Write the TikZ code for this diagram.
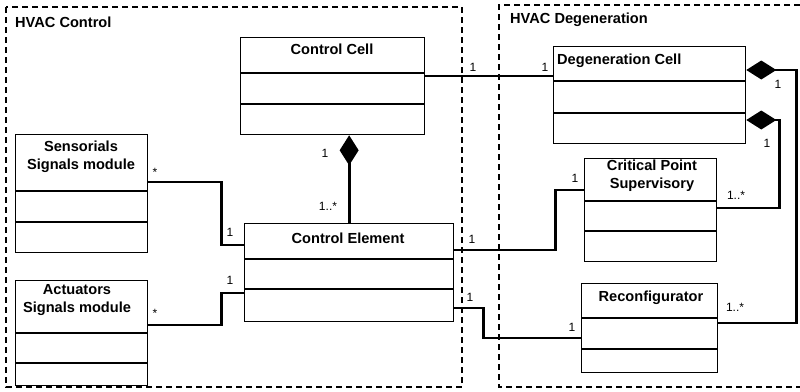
\documentclass[tikz,border=0pt]{standalone}
\usepackage{fontspec}
\setmainfont{Liberation Sans}
\usetikzlibrary{arrows.meta}

\begin{document}
\begin{tikzpicture}[x=1pt,y=-1pt]
        \tikzset{classbox/.style={draw, line width=1.3pt, rectangle, anchor=north west, inner sep=0pt}}
        \tikzset{classtitle/.style={font=\fontsize{14.6}{18}\selectfont\bfseries, align=center, inner sep=0pt}}
        \tikzset{pkgtitle/.style={font=\fontsize{14.6}{18}\selectfont\bfseries, anchor=west, inner sep=0pt}}
        \tikzset{mult/.style={font=\fontsize{12}{14}\selectfont, inner sep=0pt}}
        \tikzset{link/.style={line width=2.9pt}}
        \tikzset{comp/.style={link, {Diamond[length=30pt,width=19pt]}-}}
        \tikzset{pkg/.style={line width=1.3pt, dash pattern=on 6pt off 4pt}}

        \useasboundingbox (0,0) rectangle (800,391);

        % packages
        \draw[pkg] (6,7) rectangle (462,387);
        \draw[pkg] (800,5) -- (499,5) -- (499,387) -- (800,387);
        \node[pkgtitle] (ctrlpkg) at (15,22) {HVAC Control};
        \node[pkgtitle] (degpkg) at (510,20) {HVAC Degeneration};

        % classes
        \node[classbox, minimum width=184pt, minimum height=97pt] (ctrlcell) at (240,37) {};
        \draw[line width=1.3pt] (ctrlcell.north west) ++(0,36) -- ++(184,0) ++(-184,31) -- ++(184,0);
        \node[classtitle] (ctrlcelltitle) at (332,49) {Control Cell};

        \node[classbox, minimum width=192pt, minimum height=97pt] (degcell) at (553,46) {};
        \draw[line width=1.3pt] (degcell.north west) ++(0,35) -- ++(192,0) ++(-192,32) -- ++(192,0);
        \node[classtitle, anchor=west] (degcelltitle) at (557,61) {Degeneration Cell};

        \node[classbox, minimum width=132pt, minimum height=118pt] (sensmod) at (15,134) {};
        \draw[line width=1.3pt] (sensmod.north west) ++(0,57) -- ++(132,0) ++(-132,31) -- ++(132,0);
        \node[classtitle] (sensmodtitle) at (81,157) {Sensorials\\Signals module};

        \node[classbox, minimum width=132pt, minimum height=105pt] (actmod) at (15,280) {};
        \draw[line width=1.3pt] (actmod.north west) ++(0,53) -- ++(132,0) ++(-132,30) -- ++(132,0);
        \node[classtitle] (actmodtitle) at (77,300) {Actuators\\Signals module};

        \node[classbox, minimum width=209pt, minimum height=98pt] (ctrlelem) at (244,223) {};
        \draw[line width=1.3pt] (ctrlelem.north west) ++(0,36) -- ++(209,0) ++(-209,30) -- ++(209,0);
        \node[classtitle] (ctrlelemtitle) at (348,238) {Control Element};

        \node[classbox, minimum width=132pt, minimum height=103pt] (critpoint) at (584,158) {};
        \draw[line width=1.3pt] (critpoint.north west) ++(0,43) -- ++(132,0) ++(-132,30) -- ++(132,0);
        \node[classtitle] (critpointtitle) at (652,176) {Critical Point\\Supervisory};

        \node[classbox, minimum width=136pt, minimum height=89pt] (reconf) at (581,283) {};
        \draw[line width=1.3pt] (reconf.north west) ++(0,35) -- ++(136,0) ++(-136,31) -- ++(136,0);
        \node[classtitle] (reconftitle) at (651,298) {Reconfigurator};

        % connectors
        \draw[link] ([yshift=-39pt]ctrlcell.north east) -- ([yshift=-30pt]degcell.north west);
        \draw[comp] (ctrlcell.south -| ctrlelem.north) -- (ctrlelem.north);
        \draw[link] ([yshift=-48pt]sensmod.north east) -- ++(73,0) |- ([yshift=-22pt]ctrlelem.north west);
        \draw[link] ([yshift=-45pt]actmod.north east) -- ++(73,0) |- ([yshift=-70pt]ctrlelem.north west);
        \draw[link] ([yshift=-27pt]ctrlelem.north east) -- ++(101,0) |- ([yshift=-32pt]critpoint.north west);
        \draw[link] ([yshift=-85pt]ctrlelem.north east) -- ++(29,0) |- ([yshift=-55pt]reconf.north west);
        \draw[comp] ([yshift=-74pt]degcell.north east) -- ++(33,0) |- ([yshift=-50pt]critpoint.north east);
        \draw[comp] ([yshift=-24pt]degcell.north east) -- ++(50,0) |- ([yshift=-40pt]reconf.north east);

        % multiplicities
        \node[mult] (m1) at (473,67) {1};
        \node[mult] (m2) at (545,67) {1};
        \node[mult] (m3) at (325,153) {1};
        \node[mult] (m4) at (328,206) {1..*};
        \node[mult] (m5) at (155,172) {*};
        \node[mult] (m6) at (230,232) {1};
        \node[mult] (m7) at (155,313) {*};
        \node[mult] (m8) at (230,280) {1};
        \node[mult] (m9) at (472,239) {1};
        \node[mult] (m10) at (575,178) {1};
        \node[mult] (m11) at (470,297) {1};
        \node[mult] (m12) at (572,327) {1};
        \node[mult] (m13) at (767,143) {1};
        \node[mult] (m14) at (778,84) {1};
        \node[mult] (m15) at (736,195) {1..*};
        \node[mult] (m16) at (735,307) {1..*};
    \end{tikzpicture}
\end{document}
